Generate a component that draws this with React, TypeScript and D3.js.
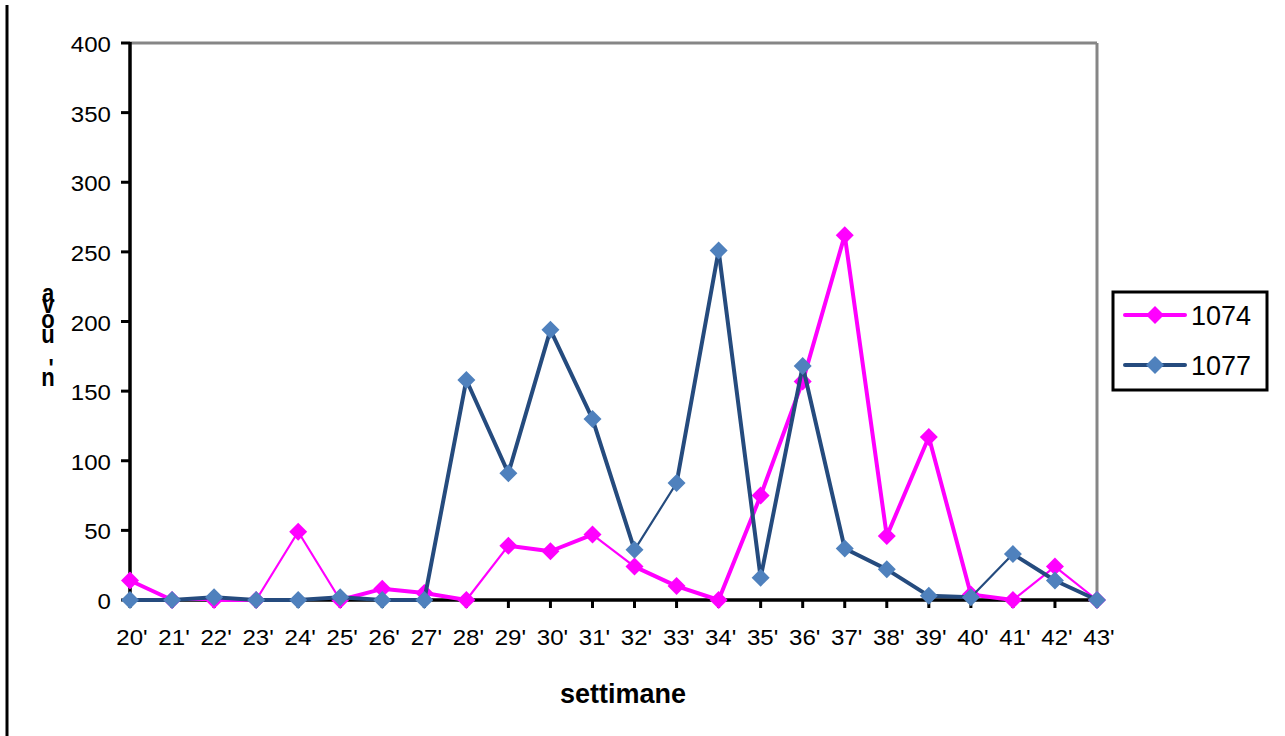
import React from "react";
import * as d3 from "d3";

const weeks = ["20'","21'","22'","23'","24'","25'","26'","27'","28'","29'","30'","31'","32'","33'","34'","35'","36'","37'","38'","39'","40'","41'","42'","43'"];
const s1074 = [14,0,0,0,49,0,8,5,0,39,35,47,24,10,0,75,157,262,46,117,4,0,24,0];
const s1077 = [0,0,2,0,0,2,0,0,158,91,194,130,36,84,251,16,168,37,22,3,2,33,14,0];
const yTicks = [0,50,100,150,200,250,300,350,400];
const thin1074 = [1,3,4,8,11,21,22];
const thin1077 = [12,20];

const W = 1285, H = 736;
const L = 130, R = 1097, T = 43, B = 600;

function Diamond({ x, y, fill }: { x: number; y: number; fill: string }) {
  const r = 9;
  return <path d={`M${x},${y - r}L${x + r},${y}L${x},${y + r}L${x - r},${y}Z`} fill={fill} />;
}

export default function App() {
  const x = d3.scalePoint<string>().domain(weeks).range([L, R]);
  const y = d3.scaleLinear().domain([0, 400]).range([B, T]);
  const font = "Arial, 'Liberation Sans', sans-serif";

  const series = [
    { name: "1074", vals: s1074, line: "#FF00FF", mark: "#FF00FF", thin: thin1074 },
    { name: "1077", vals: s1077, line: "#254B7E", mark: "#4F81BD", thin: thin1077 },
  ];

  const yLabel = [
    { c: "a", y: 302 },
    { c: "v", y: 313 },
    { c: "o", y: 328 },
    { c: "u", y: 343 },
    { c: "'", y: 377, dx: 3 },
    { c: "n", y: 386 },
  ];

  return (
    <svg width={W} height={H} style={{ position: "absolute", left: 0, top: 0, background: "#fff" }} fontFamily={font}>
      <rect width={W} height={H} fill="#fff" />
      <line x1={7} x2={7} y1={5} y2={736} stroke="#000" strokeWidth={3} />
      {/* frame */}
      <line x1={L} x2={R} y1={T} y2={T} stroke="#868686" strokeWidth={3} />
      <line x1={R} x2={R} y1={T} y2={B} stroke="#868686" strokeWidth={3} />
      {/* y axis */}
      <line x1={L} x2={L} y1={T - 1} y2={B + 1.5} stroke="#000" strokeWidth={3.5} />
      {yTicks.map((t) => (
        <g key={t}>
          <line x1={L - 9} x2={L} y1={y(t)} y2={y(t)} stroke="#000" strokeWidth={3} />
          <text transform={`translate(111,${y(t) + 9}) scale(1.12,1)`} textAnchor="end" fontSize={21.5} fill="#000">{t}</text>
        </g>
      ))}
      {/* x axis */}
      <line x1={L} x2={R} y1={B} y2={B} stroke="#000" strokeWidth={3.5} />
      {weeks.map((w) => (
        <g key={w}>
          <line x1={x(w)!} x2={x(w)!} y1={B} y2={B + 8} stroke="#000" strokeWidth={3} />
          <text transform={`translate(${x(w)! + 2},645) scale(1.12,1)`} textAnchor="middle" fontSize={21.5} fill="#000">{w}</text>
        </g>
      ))}
      <text x={623} y={703} textAnchor="middle" fontSize={27} fontWeight="bold" fill="#000">settimane</text>
      {yLabel.map((d, i) => (
        <text key={i} transform={`translate(${48 + (d.dx || 0)},${d.y}) scale(1,1.15)`} textAnchor="middle" fontSize={22} fontWeight="bold" fill="#000">{d.c}</text>
      ))}
      {/* series */}
      {series.map((s) => (
        <g key={s.name}>
          {s.vals.slice(1).map((v, i) => (
            <line key={i} x1={x(weeks[i])!} y1={y(s.vals[i])} x2={x(weeks[i + 1])!} y2={y(v)}
              stroke={s.line} strokeWidth={s.thin.includes(i) ? 2.2 : 4} strokeLinecap="round" />
          ))}
          {s.vals.map((v, i) => (
            <Diamond key={i} x={x(weeks[i])!} y={y(v)} fill={s.mark} />
          ))}
        </g>
      ))}
      {/* legend */}
      <rect x={1113} y={292} width={154} height={98} fill="#fff" stroke="#000" strokeWidth={3} />
      {series.map((s, i) => {
        const ly = 315 + i * 50;
        return (
          <g key={s.name}>
            <line x1={1125} x2={1185} y1={ly} y2={ly} stroke={s.line} strokeWidth={4} strokeLinecap="round" />
            <Diamond x={1155} y={ly} fill={s.mark} />
            <text x={1191} y={ly + 10} fontSize={27} fill="#000">{s.name}</text>
          </g>
        );
      })}
    </svg>
  );
}
